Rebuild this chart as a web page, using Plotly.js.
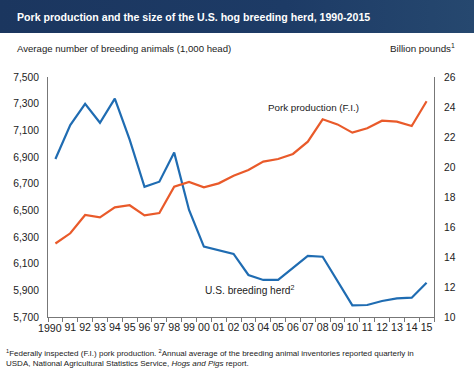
<!DOCTYPE html>
<html>
<head>
<meta charset="utf-8">
<script src="https://cdn.plot.ly/plotly-3.0.1.min.js"></script>
<style>
  html, body { margin: 0; padding: 0; background: #fff; }
  #wrap { position: relative; width: 474px; height: 368px; }
  #banner { position: absolute; left: 0; top: 0; width: 474px; height: 33px;
    background: linear-gradient(90deg, #1b365f 0%, #1d3b66 60%, #26486f 100%); }
  #chart { position: absolute; left: 0; top: 0; width: 474px; height: 368px; }
</style>
</head>
<body>
<div id="wrap">
  <div id="banner"></div>
  <div id="chart"></div>
</div>
<script>
const years = ["1990","91","92","93","94","95","96","97","98","99","00","01","02","03","04","05","06","07","08","09","10","11","12","13","14","15"];
const yearLabels = ["","91","92","93","94","95","96","97","98","99","00","01","02","03","04","05","06","07","08","09","10","11","12","13","14","15"];
const breedingHerd = [6885, 7140, 7298, 7157, 7338, 7030, 6677, 6715, 6933, 6503, 6228, 6203, 6173, 6015, 5978, 5978, 6065, 6158, 6152, 5972, 5788, 5790, 5820, 5840, 5845, 5957];
const porkProduction = [14.9, 15.58, 16.8, 16.64, 17.31, 17.45, 16.78, 16.93, 18.69, 19.0, 18.65, 18.91, 19.42, 19.8, 20.36, 20.53, 20.87, 21.69, 23.18, 22.84, 22.29, 22.58, 23.09, 23.02, 22.73, 24.38];
const leftTicks = [5700, 5900, 6100, 6300, 6500, 6700, 6900, 7100, 7300, 7500];
const rightTicks = [10, 12, 14, 16, 18, 20, 22, 24, 26];

const FONT = "Liberation Sans, Arial, sans-serif";
const BLUE = "#1f6cb2";
const ORANGE = "#e95a2a";
const TXT = "#222";

const traces = [
  { x: years, y: breedingHerd, type: "scatter", mode: "lines", name: "U.S. breeding herd",
    line: { color: BLUE, width: 2.2 }, yaxis: "y", hoverinfo: "skip" },
  { x: years, y: porkProduction, type: "scatter", mode: "lines", name: "Pork production (F.I.)",
    line: { color: ORANGE, width: 2.2 }, yaxis: "y2", hoverinfo: "skip" }
];

const layout = {
  width: 474, height: 368,
  margin: { l: 48, r: 40, t: 77, b: 51 },
  paper_bgcolor: "rgba(0,0,0,0)",
  plot_bgcolor: "rgba(0,0,0,0)",
  showlegend: false,
  font: { family: FONT, size: 11, color: TXT },
  xaxis: {
    type: "category", categoryorder: "array", categoryarray: years,
    tickvals: years, ticktext: yearLabels,
    range: [-0.5, 25.5], tickson: "boundaries",
    showline: true, linecolor: "#777", linewidth: 1,
    ticks: "outside", ticklen: 4, tickcolor: "#777",
    showgrid: false, zeroline: false,
    tickfont: { family: FONT, size: 10.6, color: TXT }, tickangle: 0
  },
  yaxis: {
    range: [5700, 7500], tickvals: leftTicks, tickformat: ",",
    showline: true, linecolor: "#777", linewidth: 1,
    ticks: "", showgrid: false, zeroline: false,
    tickfont: { family: FONT, size: 10.3, color: TXT }, ticklabelstandoff: 6
  },
  yaxis2: {
    range: [10, 26], tickvals: rightTicks, overlaying: "y", side: "right",
    showline: true, linecolor: "#777", linewidth: 1,
    ticks: "", showgrid: false, zeroline: false,
    tickfont: { family: FONT, size: 10.3, color: TXT }, ticklabelstandoff: 7
  },
  annotations: [
    { xref: "paper", yref: "paper", x: -0.0855, y: 1.25, xanchor: "left", yanchor: "middle",
      text: "<b>Pork production and the size of the U.S. hog breeding herd, 1990-2015</b>",
      showarrow: false, font: { family: FONT, size: 10.6, color: "#ffffff" } },
    { xref: "paper", yref: "paper", x: -0.0855, y: 1.12, xanchor: "left", yanchor: "middle",
      text: "Average number of breeding animals (1,000 head)",
      showarrow: false, font: { family: FONT, size: 9.6, color: TXT } },
    { xref: "paper", yref: "paper", x: 1.0596, y: 1.12, xanchor: "right", yanchor: "middle",
      text: "Billion pounds<sup>1</sup>",
      showarrow: false, font: { family: FONT, size: 9.8, color: TXT } },
    { xref: "x", yref: "paper", x: -0.35, y: -0.047, xanchor: "center", yanchor: "middle",
      text: "1990", showarrow: false, font: { family: FONT, size: 10.6, color: TXT } },
    { xref: "x", yref: "y2", x: 17.4, y: 24.0, xanchor: "center", yanchor: "middle",
      text: "Pork production (F.I.)",
      showarrow: false, font: { family: FONT, size: 9.8, color: TXT } },
    { xref: "x", yref: "y", x: 13.1, y: 5902, xanchor: "center", yanchor: "middle",
      text: "U.S. breeding herd<sup>2</sup>",
      showarrow: false, font: { family: FONT, size: 10.2, color: TXT } },
    { xref: "paper", yref: "paper", x: -0.114, y: -0.15, xanchor: "left", yanchor: "middle", align: "left",
      text: "<sup>1</sup>Federally inspected (F.I.) pork production. <sup>2</sup>Annual average of the breeding animal inventories reported quarterly in",
      showarrow: false, font: { family: FONT, size: 8.0, color: TXT } },
    { xref: "paper", yref: "paper", x: -0.114, y: -0.192, xanchor: "left", yanchor: "middle", align: "left",
      text: "USDA, National Agricultural Statistics Service, <i>Hogs and Pigs</i> report.",
      showarrow: false, font: { family: FONT, size: 8.0, color: TXT } }
  ]
};

Plotly.newPlot("chart", traces, layout, { staticPlot: true, displayModeBar: false });
</script>
</body>
</html>
